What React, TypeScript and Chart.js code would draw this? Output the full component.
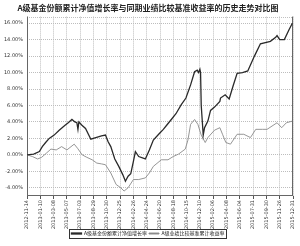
import React, { useEffect, useRef } from "react";
import { Chart, registerables } from "chart.js";

Chart.register(...registerables);

const titleText = "A级基金份额累计净值增长率与同期业绩比较基准收益率的历史走势对比图";
const seriesNames = ["A级基金份额累计净值增长率", "A级业绩比较基准累计收益率"];

const dateLabels = [
  "2012-11-14", "2013-01-10", "2013-03-08", "2013-05-07", "2013-07-03",
  "2013-08-29", "2013-10-30", "2013-12-25", "2014-02-26", "2014-04-24",
  "2014-06-20", "2014-08-18", "2014-10-15", "2014-12-10", "2015-02-06",
  "2015-04-08", "2015-06-04", "2015-07-31", "2015-09-30", "2015-11-26",
  "2015-12-31",
];

const yTicks = [-4, -2, 0, 2, 4, 6, 8, 10, 12, 14, 16];

const fundX = [0, 0.5, 0.93, 1.15, 1.4, 1.67, 2.04, 2.42, 2.86, 3.1, 3.38, 3.6, 3.75, 3.83, 3.9, 4.13, 4.4, 4.8, 5.17, 5.6, 5.9, 6.1, 6.3, 6.6, 6.9, 7.2, 7.4, 7.6, 7.8, 8.0, 8.15, 8.4, 8.9, 9.2, 9.5, 9.9, 10.25, 10.5, 10.85, 11.2, 11.6, 11.95, 12.3, 12.6, 12.8, 12.9, 13.0, 13.05, 13.1, 13.25, 13.35, 13.6, 13.8, 14.1, 14.5, 14.55, 14.9, 15.2, 15.5, 15.8, 16.2, 16.6, 17.1, 17.55, 18.3, 18.7, 18.8, 19.0, 19.35, 19.7, 19.95];
const fundY = [0, 0.1, 0.4, 1.0, 1.5, 2.0, 2.4, 3.0, 3.6, 3.9, 4.3, 4.0, 3.9, 3.1, 4.0, 3.6, 3.2, 1.9, 2.1, 2.3, 2.4, 1.6, 1.0, -0.5, -1.4, -2.4, -3.2, -2.6, -2.3, -0.8, 0.4, -0.2, -0.5, 0.6, 1.8, 2.5, 3.1, 3.6, 4.3, 5.0, 6.1, 6.9, 8.5, 10.1, 10.3, 10.0, 10.4, 10.0, 6.0, 2.4, 3.3, 4.1, 5.4, 5.8, 6.5, 6.9, 7.3, 6.8, 8.4, 9.9, 10.0, 10.2, 12.0, 13.5, 13.8, 14.3, 14.5, 14.0, 14.0, 15.2, 16.0];

const benchX = [0, 0.4, 0.8, 1.1, 1.45, 1.8, 2.2, 2.6, 3.0, 3.55, 3.8, 4.15, 4.5, 4.9, 5.25, 5.6, 5.9, 6.3, 6.7, 7.05, 7.3, 7.6, 8.0, 8.4, 8.9, 9.2, 9.5, 10.1, 10.6, 11.0, 11.4, 11.9, 12.1, 12.3, 12.6, 12.85, 13.1, 13.4, 13.6, 14.1, 14.5, 14.7, 14.95, 15.3, 15.8, 16.3, 16.8, 17.2, 17.7, 18.05, 18.8, 19.15, 19.5, 19.95];
const benchY = [0, -0.2, -0.5, -0.3, 0.2, 0.7, 0.6, 1.0, 0.6, 1.3, 0.8, 0.0, -0.3, -0.6, -1.0, -1.1, -1.2, -2.2, -3.6, -4.0, -4.4, -4.0, -3.0, -3.0, -2.8, -2.2, -1.4, -0.6, -0.6, -0.2, 0.1, 0.7, 1.8, 3.7, 4.3, 3.7, 2.4, 1.5, 2.1, 3.0, 3.3, 2.5, 1.5, 1.3, 2.5, 2.5, 2.1, 3.1, 3.1, 3.1, 3.9, 3.3, 3.9, 4.1];

const framePlugin = {
  id: "frame",
  beforeDatasetsDraw(chart: any) {
    const { ctx, chartArea } = chart;
    ctx.save();
    ctx.strokeStyle = "#c0c0c0";
    ctx.lineWidth = 1;
    ctx.setLineDash([1, 1]);
    ctx.beginPath();
    ctx.moveTo(chartArea.left, Math.round(chartArea.top) + 0.5);
    ctx.lineTo(chartArea.right, Math.round(chartArea.top) + 0.5);
    ctx.stroke();
    ctx.setLineDash([]);
    ctx.strokeStyle = "#666";
    ctx.beginPath();
    ctx.moveTo(Math.round(chartArea.right) - 0.5, chartArea.top);
    ctx.lineTo(Math.round(chartArea.right) - 0.5, chartArea.bottom);
    ctx.moveTo(Math.round(chartArea.left) + 0.5, chartArea.top);
    ctx.lineTo(Math.round(chartArea.left) + 0.5, chartArea.bottom);
    ctx.moveTo(chartArea.left, Math.round(chartArea.bottom) - 0.5);
    ctx.lineTo(chartArea.right, Math.round(chartArea.bottom) - 0.5);
    ctx.stroke();
    ctx.restore();
  },
  afterDraw(chart: any) {
    const lg = chart.legend;
    if (!lg || !lg.legendHitBoxes || !lg.legendHitBoxes.length) return;
    const boxes = lg.legendHitBoxes;
    const l = boxes[0].left - 2;
    const r = boxes[boxes.length - 1].left + boxes[boxes.length - 1].width + 2;
    const t = boxes[0].top - 2;
    const b = boxes[0].top + boxes[0].height + 2;
    const ctx = chart.ctx;
    ctx.save();
    ctx.strokeStyle = "#333";
    ctx.lineWidth = 1;
    ctx.strokeRect(Math.round(l) + 0.5, Math.round(t) + 0.5, Math.round(r - l), Math.round(b - t));
    ctx.restore();
  },
};

export default function App() {
  const ref = useRef<HTMLCanvasElement | null>(null);
  useEffect(() => {
    if (!ref.current) return;
    const chart = new Chart(ref.current, {
      type: "line",
      data: {
        datasets: [
          {
            label: seriesNames[0],
            data: fundX.map((x, i) => ({ x, y: fundY[i] })),
            borderColor: "#2a2a2a",
            backgroundColor: "#2a2a2a",
            borderWidth: 1.3,
            pointRadius: 0,
            tension: 0,
          },
          {
            label: seriesNames[1],
            data: benchX.map((x, i) => ({ x, y: benchY[i] })),
            borderColor: "#8a8a8a",
            backgroundColor: "#8a8a8a",
            borderWidth: 0.9,
            pointRadius: 0,
            tension: 0,
          },
        ],
      },
      options: {
        animation: false,
        responsive: false,
        maintainAspectRatio: false,
        layout: { padding: { left: 0, right: 4, top: 0, bottom: 0 } },
        plugins: {
          title: {
            display: true,
            text: titleText,
            color: "#222",
            font: { family: "'Noto Sans CJK SC'", size: 8, weight: "bold" },
            padding: { top: 3, bottom: 4 },
          },
          legend: {
            display: true,
            position: "bottom",
            labels: {
              boxWidth: 10,
              boxHeight: 1,
              padding: 2,
              color: "#222",
              font: { family: "'Noto Sans CJK SC'", size: 5 },
            },
          },
          tooltip: { enabled: false },
        },
        scales: {
          x: {
            type: "linear",
            min: 0,
            max: 20,
            afterBuildTicks: (scale: any) => {
              scale.ticks = dateLabels.map((_, i) => ({ value: i }));
            },
            afterFit: (scale: any) => {
              scale.height = 33;
            },
            ticks: {
              autoSkip: false,
              maxRotation: 90,
              minRotation: 90,
              padding: 1,
              color: "#333",
              font: { family: "'DejaVu Sans'", size: 5 },
              callback: (v: any) => dateLabels[Math.round(Number(v))] ?? "",
            },
            grid: {
              color: "#bdbdbd",
              lineWidth: 1,
              tickLength: 3,
              tickColor: "#555",
              drawTicks: true,
            },
            border: { display: false, dash: [1, 1] },
          },
          y: {
            type: "linear",
            min: -5,
            max: 16.8,
            afterBuildTicks: (scale: any) => {
              scale.ticks = yTicks.map((v) => ({ value: v }));
            },
            afterFit: (scale: any) => {
              scale.width = 27;
            },
            ticks: {
              padding: 4,
              color: "#333",
              font: { family: "'DejaVu Sans'", size: 5 },
              callback: (v: any) => Number(v).toFixed(2) + "%",
            },
            grid: {
              color: "#bdbdbd",
              lineWidth: 1,
              drawTicks: false,
            },
            border: { display: false, dash: [1, 1] },
          },
        },
      },
      plugins: [framePlugin],
    } as any);
    return () => chart.destroy();
  }, []);
  return (
    <div style={{ position: "absolute", left: 0, top: 0, width: 300, height: 246, background: "#fff" }}>
      <canvas ref={ref} width={300} height={246} style={{ display: "block" }} />
    </div>
  );
}
